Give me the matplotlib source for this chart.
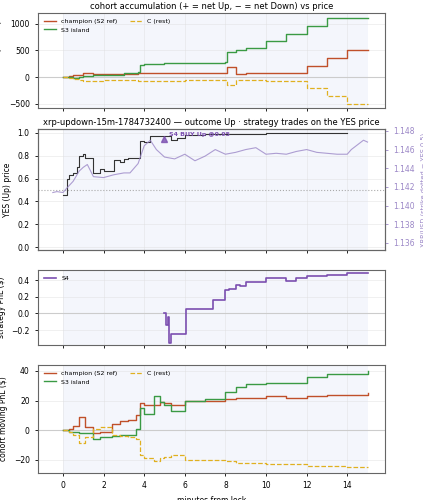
import matplotlib
matplotlib.use("Agg")
import matplotlib.pyplot as plt
import numpy as np

# ---- data ----
t_acc = [0, 0.3, 0.5, 0.8, 1.0, 1.5, 2.0, 3.0, 3.7, 3.8, 4.0, 5.0, 6.0, 7.0, 8.0, 8.1, 8.5, 9.0, 10.0, 11.0, 12.0, 13.0, 14.0, 15.0]
champ_acc = [0, 20, 30, 40, 70, 60, 60, 65, 75, 75, 75, 75, 75, 75, 75, 180, 60, 80, 80, 80, 200, 350, 500, 500]
s3_acc = [0, 0, -10, 10, 20, 30, 40, 80, 100, 220, 240, 260, 270, 270, 280, 470, 500, 540, 680, 800, 950, 1100, 1100, 1100]
c_acc = [0, -20, -40, -60, -80, -70, -60, -60, -70, -80, -80, -70, -60, -60, -60, -150, -50, -60, -80, -80, -200, -350, -500, -500]

t_yes = [0, 0.2, 0.3, 0.5, 0.7, 0.8, 1.0, 1.1, 1.5, 1.8, 2.0, 2.5, 2.8, 3.0, 3.2, 3.5, 3.8, 4.0, 4.3, 4.6, 5.0, 5.3, 5.6, 6.0, 7.0, 8.0, 9.0, 10.0, 12.0, 14.0]
yes_px = [0.46, 0.60, 0.63, 0.65, 0.70, 0.80, 0.82, 0.78, 0.65, 0.68, 0.67, 0.76, 0.75, 0.77, 0.78, 0.78, 0.93, 0.92, 0.97, 0.97, 0.97, 0.94, 0.96, 0.98, 0.99, 0.99, 0.995, 1.0, 1.0, 1.0]
t_xrp = [-0.5, -0.3, 0, 0.2, 0.5, 0.8, 1.0, 1.2, 1.5, 2.0, 2.5, 3.0, 3.3, 3.7, 4.0, 4.3, 4.6, 5.0, 5.5, 6.0, 6.5, 7.0, 7.5, 8.0, 8.5, 9.0, 9.5, 10.0, 10.5, 11.0, 11.5, 12.0, 12.5, 13.0, 13.5, 14.0, 14.2, 14.5, 14.8, 15.0]
xrp = [1.1414, 1.1415, 1.1414, 1.1419, 1.1426, 1.1437, 1.1441, 1.1444, 1.1431, 1.1430, 1.1433, 1.1435, 1.1435, 1.1445, 1.1464, 1.1470, 1.1460, 1.1452, 1.1450, 1.1455, 1.1448, 1.1453, 1.1460, 1.1455, 1.1457, 1.1460, 1.1462, 1.1455, 1.1456, 1.1455, 1.1458, 1.1460, 1.1457, 1.1456, 1.1455, 1.1455, 1.1460, 1.1465, 1.1470, 1.1468]
buy_t, buy_px = 5.0, 0.95

t_s4 = [5.0, 5.05, 5.15, 5.2, 5.3, 6.0, 6.05, 7.4, 8.0, 8.2, 8.5, 8.7, 9.0, 10.0, 11.0, 11.5, 12.0, 13.0, 14.0, 15.0]
s4 = [0.0, -0.14, -0.04, -0.35, -0.25, -0.25, 0.05, 0.16, 0.28, 0.29, 0.34, 0.33, 0.38, 0.43, 0.39, 0.43, 0.45, 0.46, 0.48, 0.49]

t_pnl = [0, 0.3, 0.5, 0.8, 1.1, 1.5, 1.8, 2.4, 2.8, 3.2, 3.6, 3.8, 4.0, 4.5, 4.8, 5.0, 5.3, 6.0, 7.0, 8.0, 8.5, 9.0, 10.0, 11.0, 12.0, 13.0, 14.0, 15.0]
champ_pnl = [0, 1, 3, 9, 2, -2, -1, 4, 6, 7, 10, 18, 17, 17, 19, 18, 17, 20, 20, 21, 22, 22, 23, 22, 23, 24, 24, 25]
s3_pnl = [0, -1, -1, -2, -2, -6, -5, -4, -3, -3, 1, 15, 11, 23, 19, 17, 13, 20, 21, 26, 29, 31, 32, 32, 36, 38, 38, 40]
c_pnl = [0, -1, -3, -9, -5, 1, 2, -3, -4, -5, -6, -17, -19, -21, -19, -18, -17, -20, -20, -21, -22, -22, -23, -23, -24, -24, -25, -25]

# ---- plot ----
plt.rcParams['font.size'] = 5.5
plt.rcParams['axes.edgecolor'] = '#666666'
fig = plt.figure(figsize=(4.23, 5.0), dpi=100)
W, H = 423, 500
def ax_at(top, bot):
    return fig.add_axes([38 / W, 1 - bot / H, (385 - 38) / W, (bot - top) / H])

RED, GREEN, GOLD, PURP = '#c0502a', '#3a9a44', '#e0b020', '#7b4fb0'
xlim = (-1.23, 15.86)
axes = [ax_at(13, 108), ax_at(129, 250), ax_at(270, 345), ax_at(365, 473)]
for a in axes:
    a.set_xlim(*xlim)
    a.axvspan(0, 15, color='#eef0fa', alpha=0.6, lw=0)
    a.grid(True, color='#dddddd', lw=0.5, alpha=0.6)
    a.set_xticks(range(0, 16, 2))
    a.tick_params(labelsize=5.5, length=2.5, width=0.6)
for a in axes[:3]:
    a.tick_params(labelbottom=False)

a = axes[0]
a.axhline(0, color='#cccccc', lw=0.8)
a.step(t_acc, champ_acc, where='post', color=RED, lw=1.0, label='champion (S2 ref)')
a.step(t_acc, s3_acc, where='post', color=GREEN, lw=1.0, label='S3 island')
a.step(t_acc, c_acc, where='post', color=GOLD, lw=0.9, ls='--', label='C (rest)')
a.set_ylim(-580, 1200)
a.set_ylabel('acc. net YES (shares)')
a.set_title('cohort accumulation (+ = net Up, − = net Down) vs price', fontsize=6, pad=3)
a.legend(loc='upper left', ncol=2, fontsize=4.5, frameon=False)

a = axes[1]
a.step(t_yes, yes_px, where='post', color='#333333', lw=0.8)
a.axhline(0.5, color='#aaaaaa', lw=0.8, ls=':')
a.plot(buy_t, buy_px, marker='^', color=PURP, ms=5, alpha=0.8, ls='none')
a.annotate('S4 BUY Up @0.95', (buy_t, buy_px), xytext=(3, 2), textcoords='offset points',
           fontsize=4.5, color=PURP, fontweight='bold')
a.set_ylim(-0.026, 1.035)
a.set_ylabel('YES (Up) price')
a.set_title('xrp-updown-15m-1784732400 — outcome Up · strategy trades on the YES price', fontsize=6, pad=3)
a2 = a.twinx()
a2.plot(t_xrp, xrp, color='#9b87c7', lw=0.8, alpha=0.8)
a2.set_ylim(1.13525, 1.1482)
a2.set_yticks([1.136, 1.138, 1.140, 1.142, 1.144, 1.146, 1.148])
a2.tick_params(colors='#9b87c7', labelsize=5.5, length=2.5, width=0.6)
a2.set_ylabel('XRP/USD (strike dotted = YES 0.5)', color='#9b87c7', fontsize=4.8)

a = axes[2]
a.axhline(0, color='#cccccc', lw=0.8)
a.step(t_s4, s4, where='post', color=PURP, lw=1.2, label='S4')
a.set_ylim(-0.38, 0.52)
a.set_yticks([-0.2, 0.0, 0.2, 0.4])
a.set_ylabel('strategy PnL ($)')
a.legend(loc='upper left', fontsize=4.5, frameon=False)

a = axes[3]
a.axhline(0, color='#cccccc', lw=0.8)
a.step(t_pnl, champ_pnl, where='post', color=RED, lw=1.0, label='champion (S2 ref)')
a.step(t_pnl, s3_pnl, where='post', color=GREEN, lw=1.0, label='S3 island')
a.step(t_pnl, c_pnl, where='post', color=GOLD, lw=0.9, ls='--', label='C (rest)')
a.set_ylim(-29, 44)
a.set_ylabel('cohort moving PnL ($)')
a.set_xlabel('minutes from lock')
a.legend(loc='upper left', ncol=2, fontsize=4.5, frameon=False)

fig.savefig('out.png', dpi=100)
